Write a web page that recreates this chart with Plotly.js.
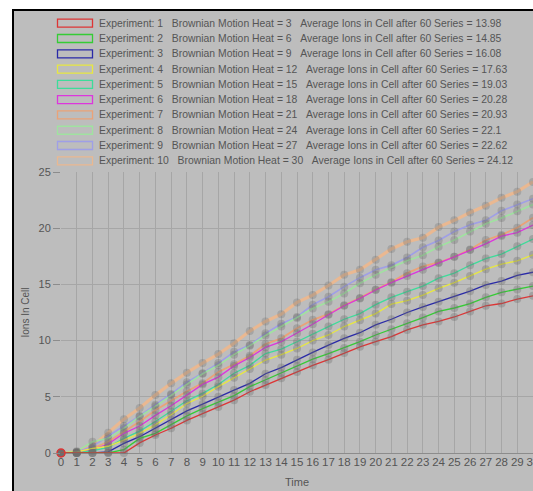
<!DOCTYPE html>
<html>
<head>
<meta charset="utf-8">
<script src="https://cdn.plot.ly/plotly-3.0.1.min.js"></script>
<style>
  html, body { margin: 0; padding: 0; background: #ffffff; width: 533px; height: 491px; overflow: hidden; }
  #frame { position: absolute; left: 12px; top: 9px; width: 700px; height: 700px;
           border-left: 2px solid #000; border-top: 2px solid #000; background: #bdbdbd; }
  #chart { position: absolute; left: 0; top: 0; width: 533px; height: 491px; }
</style>
</head>
<body>
<div id="frame"></div>
<div id="chart"></div>
<script>
// ---- data ----
const time = [0,1,2,3,4,5,6,7,8,9,10,11,12,13,14,15,16,17,18,19,20,21,22,23,24,25,26,27,28,29,30];
const experiments = [1,2,3,4,5,6,7,8,9,10];
const heats = [3,6,9,12,15,18,21,24,27,30];
const averages = ["13.98","14.85","16.08","17.63","19.03","20.28","20.93","22.1","22.62","24.12"];

const exp1 = [0,0,0,0,0,0.9,1.6,2.2,2.9,3.5,4.1,4.7,5.45,6.05,6.65,7.2,7.8,8.3,8.9,9.45,9.9,10.35,10.95,11.4,11.7,12.1,12.6,13.1,13.3,13.7,13.98];
const exp2 = [0,0,0,0,0.3,1.3,1.75,2.5,3.3,3.95,4.5,5.1,5.9,6.5,7.1,7.75,8.35,8.85,9.35,9.9,10.5,11.0,11.55,12.05,12.6,12.9,13.3,13.85,14.3,14.55,14.85];
const exp3 = [0,0,0,0.1,0.85,1.45,2.2,2.95,3.75,4.35,5.0,5.6,6.2,7.05,7.6,8.3,8.95,9.6,10.2,10.7,11.4,11.9,12.5,13.0,13.45,13.9,14.4,14.95,15.3,15.8,16.08];
const exp4 = [0,0.1,0.4,0.6,1.15,1.75,2.5,3.4,4.4,5.05,5.9,6.7,7.47,8.27,8.75,9.3,10.0,10.5,11.25,11.8,12.4,13.25,13.55,14.05,14.65,15.15,15.75,16.35,16.8,17.1,17.63];
const exp5 = [0,0,0.2,0.5,1.3,1.95,2.8,3.7,4.65,5.3,6.1,7.1,7.8,8.85,9.25,9.9,10.6,11.25,11.9,12.4,13.2,13.85,14.35,14.85,15.55,16.0,16.7,17.3,17.7,18.4,19.03];
const exp6 = [0,0,0.3,0.8,1.75,2.4,3.35,4.2,5.15,6.1,6.75,7.75,8.5,9.4,9.9,10.65,11.45,12.3,13.1,13.75,14.5,15.15,15.75,16.3,16.9,17.45,18.05,18.6,19.3,19.6,20.28];
const exp7 = [0,0,0.4,1.0,1.9,2.8,3.8,4.65,5.5,6.2,7.2,7.9,8.65,9.7,10.2,11.1,11.85,12.35,13.15,13.8,14.55,15.2,16.0,16.6,16.95,17.45,18.1,18.95,19.4,20.05,20.93];
const exp8 = [0,0.15,1.0,1.3,2.2,3.25,4.15,5.15,6.1,7.05,7.8,8.75,9.55,10.45,11.25,12.0,12.85,13.45,14.2,15.1,15.85,16.5,17.1,17.6,18.35,18.95,19.7,20.4,20.9,21.5,22.1];
const exp9 = [0,0.1,0.6,1.5,2.4,3.3,4.3,5.25,6.3,7.1,8.0,9.0,9.6,10.65,11.5,12.1,13.2,13.9,14.8,15.6,16.3,16.7,17.4,18.3,18.9,19.7,20.3,20.7,21.55,22.1,22.62];
const exp10 = [0,0.1,0.6,1.8,3.0,4.0,5.15,6.2,7.15,8.0,8.8,9.76,10.85,11.7,12.35,13.4,14.05,14.9,15.85,16.3,17.2,18.15,18.8,19.15,20.1,20.7,21.4,22.0,22.7,23.25,24.12];
const series = [exp1, exp2, exp3, exp4, exp5, exp6, exp7, exp8, exp9, exp10];

const yTicks = [0,5,10,15,20,25];

// ---- styles ----
const colors = ["#dd3535","#35cc35","#2a2aa8","#e8e840","#3ddc9a","#dd35dd","#f0a070","#9de89d","#9c9cec","#f2b88a"];
const widths = [1.3,1.3,1.3,1.3,1.3,1.3,1.8,1.6,1.6,3.2];
const opac = [1,1,1,1,1,1,0.9,0.9,0.9,0.85];

// geometry (px)
const W = 533, H = 491, mL = 61, mR = 0, mT = 172, mB = 38;
const pw = W - mL - mR, ph = H - mT - mB;
const px2x = p => (p - mL) / pw;
const py2y = p => (H - mB - p) / ph;

const traces = [];
for (let i = series.length - 1; i >= 0; i--) {
  const mlw = time.map((t, k) => (i === 0 && k === 0) ? 1.5 : 0);
  traces.push({
    type: 'scatter', mode: 'lines+markers', x: time, y: series[i],
    name: 'Experiment ' + experiments[i], showlegend: false, opacity: opac[i],
    line: { color: colors[i], width: widths[i] },
    marker: { size: 8, color: 'rgba(110,110,110,0.35)', line: { color: colors[i], width: mlw } },
    cliponaxis: false, hoverinfo: 'x+y'
  });
}

const shapes = [], annotations = [];
const row0 = 23.2, rowStep = 15.29;
for (let i = 0; i < experiments.length; i++) {
  const cy = row0 + i * rowStep;
  shapes.push({ type: 'rect', xref: 'paper', yref: 'paper',
    x0: px2x(57.5), x1: px2x(92.5), y0: py2y(cy - 4), y1: py2y(cy + 4),
    line: { color: colors[i], width: 1.3 }, fillcolor: 'rgba(0,0,0,0)', opacity: opac[i] });
  const gap = '\u00a0\u00a0\u00a0';
  annotations.push({ xref: 'paper', yref: 'paper', x: px2x(97), y: py2y(cy),
    xanchor: 'left', yanchor: 'middle', showarrow: false,
    text: 'Experiment:\u00a0' + experiments[i] + gap + 'Brownian Motion Heat = ' + heats[i] + gap +
          'Average Ions in Cell after 60 Series = ' + averages[i],
    font: { family: 'Liberation Sans, Arial, sans-serif', size: 10.4, color: '#555555' } });
}

const layout = {
  width: W, height: H,
  margin: { l: mL, r: mR, t: mT, b: mB, pad: 0 },
  paper_bgcolor: 'rgba(0,0,0,0)', plot_bgcolor: 'rgba(0,0,0,0)',
  showlegend: false,
  font: { family: 'Liberation Sans, Arial, sans-serif', size: 11, color: '#555555' },
  xaxis: {
    range: [0, 30], tickmode: 'array', tickvals: time, ticktext: time.map(String),
    tickangle: 0, ticklabeloverflow: 'allow', showgrid: true, gridcolor: '#a6a6a6', gridwidth: 1,
    zeroline: false, showline: false, ticks: '', ticklen: 0,
    tickfont: { size: 11.5, color: '#555555' },
    title: { text: 'Time', font: { size: 11, color: '#555555' }, standoff: 11 }
  },
  yaxis: {
    range: [0, 25], tickmode: 'array', tickvals: yTicks, ticktext: yTicks.map(String),
    showgrid: true, gridcolor: '#a6a6a6', gridwidth: 1,
    zeroline: true, zerolinecolor: '#8c8c8c', zerolinewidth: 1,
    showline: false, ticks: 'outside', ticklen: 7, tickcolor: '#8c8c8c',
    tickfont: { size: 11, color: '#555555' },
    title: { text: 'Ions In Cell', font: { size: 10, color: '#555555' }, standoff: 7 }
  },
  shapes: shapes,
  annotations: annotations
};

Plotly.newPlot('chart', traces, layout, { staticPlot: true, displayModeBar: false });
</script>
</body>
</html>
